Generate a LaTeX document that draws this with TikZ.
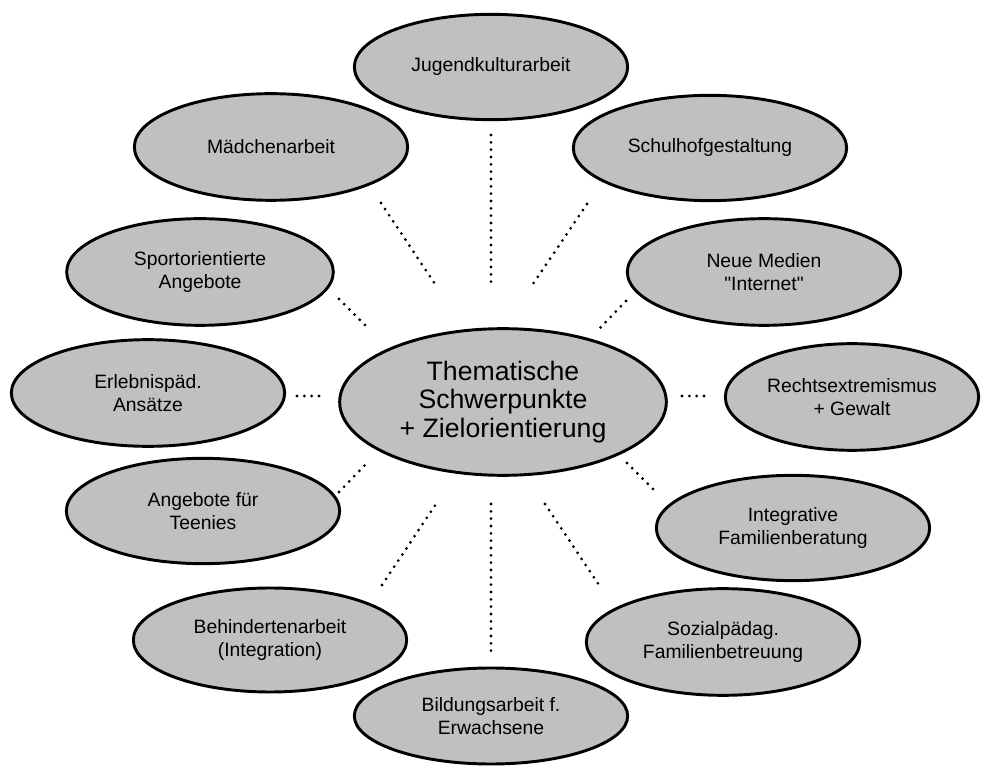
\documentclass[tikz,border=0pt]{standalone}
\usepackage{fontspec}
\setmainfont{Liberation Sans}[Ligatures=TeXOff]
\usetikzlibrary{shapes.geometric}
\definecolor{bubblegray}{HTML}{C0C0C0}
\begin{document}
\begin{tikzpicture}[x=0.75pt,y=-0.75pt,
  bubble/.style={ellipse, draw=black, line width=2.2pt, fill=bubblegray,
    inner sep=0pt, align=center, font=\fontsize{14.5}{16.8}\selectfont},
  hub/.style={bubble, font=\fontsize{20}{21.5}\selectfont},
  dotline/.style={line width=2.3pt, line cap=round, dash pattern=on 0pt off 5.5pt}]
\useasboundingbox (0,0) rectangle (983,773);

\node[hub, minimum width=245pt, minimum height=110pt] (cen) at (503,402)
  {Thematische\\Schwerpunkte\\+ Zielorientierung};

\node[bubble, minimum width=205pt, minimum height=79pt] (jug) at (491,67) {Jugendkulturarbeit};
\node[bubble, minimum width=205pt, minimum height=80pt] (mad) at (271,147) {Mädchenarbeit};
\node[bubble, minimum width=205pt, minimum height=79pt] (sch) at (710,148) {Schulhofgestaltung};
\node[bubble, minimum width=200pt, minimum height=80pt] (spo) at (200,272) {Sportorientierte\\Angebote};
\node[bubble, minimum width=205pt, minimum height=80pt] (neu) at (764,272) {Neue Medien\\"Internet"};
\node[bubble, minimum width=205pt, minimum height=80pt] (erl) at (148,393) {Erlebnispäd.\\Ansätze};
\node[bubble, minimum width=190pt, minimum height=80pt] (rec) at (852,397) {Rechtsextremismus\\+ Gewalt};
\node[bubble, minimum width=205pt, minimum height=79pt] (tee) at (203,511) {Angebote für\\Teenies};
\node[bubble, minimum width=205pt, minimum height=79pt] (int) at (793,528) {Integrative\\Familienberatung};
\node[bubble, minimum width=205pt, minimum height=78pt] (beh) at (270,640) {Behindertenarbeit\\(Integration)};
\node[bubble, minimum width=205pt, minimum height=80pt] (soz) at (723,642) {Sozialpädag.\\Familienbetreuung};
\node[bubble, minimum width=205pt, minimum height=72pt] (bil) at (491,716) {Bildungsarbeit f.\\Erwachsene};

% dotted connector end points
\coordinate (j1) at (491,135); \coordinate (j2) at (491,284);
\coordinate (m1) at (381,203); \coordinate (m2) at (435,284);
\coordinate (s1) at (587,204); \coordinate (s2) at (533,284);
\coordinate (p1) at (339,299); \coordinate (p2) at (366,326);
\coordinate (n1) at (626,301); \coordinate (n2) at (600,328);
\coordinate (e1) at (297,396); \coordinate (e2) at (320,396);
\coordinate (r1) at (682,396); \coordinate (r2) at (704,396);
\coordinate (t1) at (339,492); \coordinate (t2) at (366,464);
\coordinate (i1) at (627,463); \coordinate (i2) at (654,490);
\coordinate (b1) at (382,585); \coordinate (b2) at (436,504);
\coordinate (d1) at (491,504); \coordinate (d2) at (491,653);
\coordinate (z1) at (545,504); \coordinate (z2) at (599,585);

\draw[dotline] (j1) -- (j2);
\draw[dotline] (m1) -- (m2);
\draw[dotline] (s1) -- (s2);
\draw[dotline] (p1) -- (p2);
\draw[dotline] (n1) -- (n2);
\draw[dotline] (e1) -- (e2);
\draw[dotline] (r1) -- (r2);
\draw[dotline] (t1) -- (t2);
\draw[dotline] (i1) -- (i2);
\draw[dotline] (b1) -- (b2);
\draw[dotline] (d1) -- (d2);
\draw[dotline] (z1) -- (z2);
\end{tikzpicture}
\end{document}
